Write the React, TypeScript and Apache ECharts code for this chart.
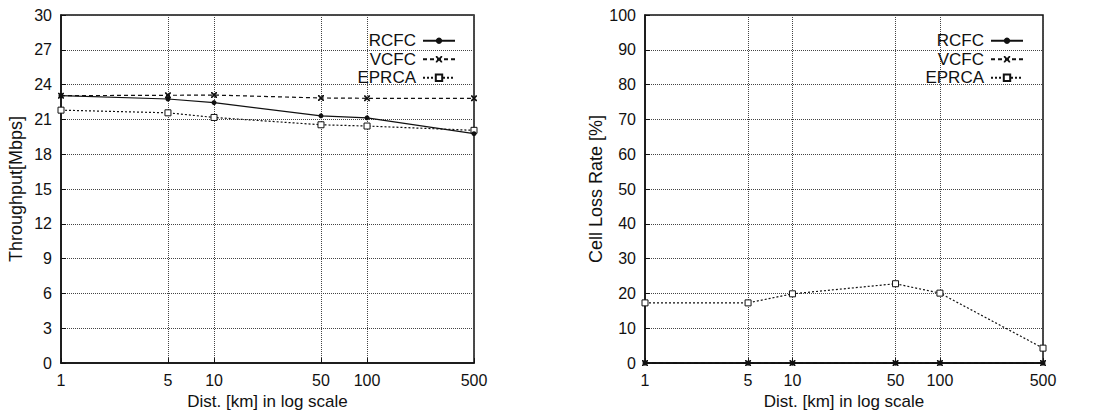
import React, { useEffect, useRef } from "react";
import * as echarts from "echarts";

const distances = [1, 5, 10, 50, 100, 500];
const seriesNames = ["RCFC", "VCFC", "EPRCA"];

const thrRCFC = [23.05, 22.76, 22.45, 21.31, 21.14, 19.77];
const thrVCFC = [23.05, 23.08, 23.1, 22.85, 22.82, 22.82];
const thrEPRCA = [21.8, 21.57, 21.17, 20.54, 20.43, 20.06];

const clrRCFC = [0, 0, 0, 0, 0, 0];
const clrVCFC = [0, 0, 0, 0, 0, 0];
const clrEPRCA = [17.3, 17.3, 19.9, 22.8, 20.1, 4.3];

const FONT = "Liberation Sans, Arial, Helvetica, sans-serif";
const INK = "#111";
const X_SYMBOL =
  "path://M0,0 L2,0 L5,3 L8,0 L10,0 L10,2 L7,5 L10,8 L10,10 L8,10 L5,7 L2,10 L0,10 L0,8 L3,5 L0,2 Z";

const pairs = (ys: number[]) => distances.map((d, i) => [d, ys[i]]);

const styleFor = (name: string) => {
  if (name === "RCFC")
    return {
      symbol: "circle",
      symbolSize: 5,
      lineStyle: { color: INK, width: 1.2, type: "solid" },
      itemStyle: { color: INK },
    };
  if (name === "VCFC")
    return {
      symbol: X_SYMBOL,
      symbolSize: 6,
      lineStyle: { color: INK, width: 1.2, type: [4, 3] },
      itemStyle: { color: INK },
    };
  return {
    symbol: "rect",
    symbolSize: 6,
    lineStyle: { color: INK, width: 1.2, type: [2, 2] },
    itemStyle: { color: "#fff", borderColor: INK, borderWidth: 1 },
  };
};

const makeX = (gridIndex: number) => ({
  type: "log",
  gridIndex,
  logBase: 10,
  min: 1,
  max: 500,
  name: "Dist. [km] in log scale",
  nameLocation: "middle",
  nameGap: 28,
  nameTextStyle: { fontFamily: FONT, fontSize: 17, color: INK },
  axisLine: { lineStyle: { color: INK, width: 1.5 } },
  axisTick: { show: true, inside: true, length: 5, customValues: distances, lineStyle: { color: INK } },
  minorTick: { show: false },
  axisLabel: {
    customValues: distances,
    fontFamily: FONT,
    fontSize: 16,
    color: INK,
    margin: 9,
    formatter: (v: number) => String(Math.round(v)),
  },
  splitLine: { show: true, lineStyle: { color: "#444", type: "dotted", width: 1 } },
  minorSplitLine: { show: false },
});

const makeY = (gridIndex: number, max: number, interval: number, name: string) => ({
  type: "value",
  gridIndex,
  min: 0,
  max,
  interval,
  name,
  nameLocation: "middle",
  nameGap: 36,
  nameTextStyle: { fontFamily: FONT, fontSize: 18, color: INK },
  axisLine: { show: true, lineStyle: { color: INK, width: 1.5 } },
  axisTick: { show: true, inside: true, length: 5, lineStyle: { color: INK } },
  axisLabel: { fontFamily: FONT, fontSize: 16, color: INK, margin: 9 },
  splitLine: { show: true, lineStyle: { color: "#444", type: "dotted", width: 1 } },
});

const makeLegend = (right: number) => ({
  orient: "vertical",
  right,
  top: 27,
  align: "right",
  itemWidth: 32,
  itemHeight: 8,
  itemGap: 1,
  selectedMode: false,
  data: seriesNames,
  textStyle: { fontFamily: FONT, fontSize: 17, color: INK, lineHeight: 17.5, padding: [0, 2, 0, 0] },
});

export default function App() {
  const ref = useRef<HTMLDivElement>(null);
  useEffect(() => {
    if (!ref.current) return;
    const chart = echarts.init(ref.current, undefined, { renderer: "svg" });
    const thr = [thrRCFC, thrVCFC, thrEPRCA];
    const clr = [clrRCFC, clrVCFC, clrEPRCA];
    const series: any[] = [];
    seriesNames.forEach((n, i) => {
      series.push({
        name: n,
        type: "line",
        xAxisIndex: 0,
        yAxisIndex: 0,
        data: pairs(thr[i]),
        clip: false,
        z: 3 - i + 2,
        ...styleFor(n),
      });
    });
    seriesNames.forEach((n, i) => {
      series.push({
        name: n,
        type: "line",
        xAxisIndex: 1,
        yAxisIndex: 1,
        data: pairs(clr[i]),
        clip: false,
        z: 3 - i + 2,
        ...styleFor(n),
      });
    });
    chart.setOption({
      animation: false,
      backgroundColor: "#fff",
      textStyle: { fontFamily: FONT },
      grid: [
        { left: 61, top: 15, width: 413, height: 351, show: true, borderColor: INK, borderWidth: 1.5 },
        { left: 645, top: 15, width: 398, height: 352, show: true, borderColor: INK, borderWidth: 1.5 },
      ],
      legend: [makeLegend(1117 - 461), makeLegend(1117 - 1029)],
      xAxis: [makeX(0), makeX(1)],
      yAxis: [makeY(0, 30, 3, "Throughput[Mbps]"), makeY(1, 100, 10, "Cell Loss Rate [%]")],
      series,
    });
    return () => chart.dispose();
  }, []);
  return (
    <div
      ref={ref}
      style={{ position: "absolute", left: 0, top: 0, width: 1117, height: 415, background: "#fff" }}
    />
  );
}
